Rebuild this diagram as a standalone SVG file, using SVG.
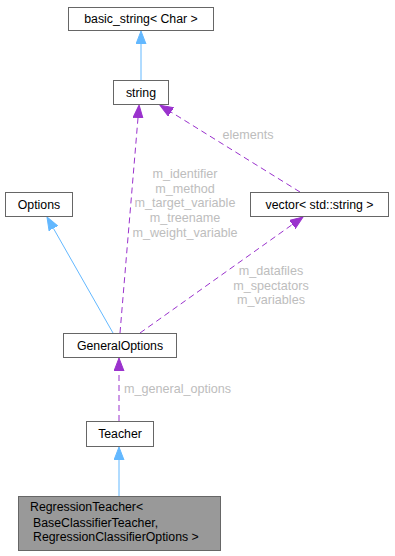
<svg xmlns="http://www.w3.org/2000/svg" width="395" height="556" viewBox="0 0 395 556">
<style>
.box{fill:#ffffff;stroke:#666666;stroke-width:1}
.cur{fill:#999999;stroke:#666666;stroke-width:1}
.t{font-family:"Liberation Sans",Arial,sans-serif;font-size:12.3px;fill:#000000}
.lbl{font-family:"Liberation Sans",Arial,sans-serif;font-size:12.6px;fill:#bdbdbd;text-anchor:middle}
.inh{fill:none;stroke:#63b8ff;stroke-width:1}
.use{fill:none;stroke:#9a32cd;stroke-width:1;stroke-dasharray:6,4}
</style>
<defs>
<marker id="ab" markerUnits="userSpaceOnUse" markerWidth="14" markerHeight="11" refX="0" refY="5.5" orient="auto" viewBox="0 0 14 11">
<path d="M0,0.5 L13,5.5 L0,10.5 z" fill="#63b8ff" stroke="#63b8ff"/>
</marker>
<marker id="ap" markerUnits="userSpaceOnUse" markerWidth="14" markerHeight="11" refX="0" refY="5.5" orient="auto" viewBox="0 0 14 11">
<path d="M0,0.5 L13,5.5 L0,10.5 z" fill="#9a32cd" stroke="#9a32cd"/>
</marker>
</defs>
<g id="connectors">
<path class="inh" d="M141,80 L141,44" marker-end="url(#ab)"/>
<path class="use" d="M120,333 L138,118" marker-end="url(#ap)"/>
<path class="use" d="M300,192 L171,112" marker-end="url(#ap)"/>
<path class="inh" d="M113,333 L53.4,228.3" marker-end="url(#ab)"/>
<path class="use" d="M140,333 L292.4,224.5" marker-end="url(#ap)"/>
<path class="use" d="M119,421 L119,371" marker-end="url(#ap)"/>
<path class="inh" d="M119,496 L119,460" marker-end="url(#ab)"/>
<text class="lbl" x="248" y="139">elements</text>
<text class="lbl" x="185" y="178">m_identifier</text>
<text class="lbl" x="185" y="193">m_method</text>
<text class="lbl" x="185" y="207">m_target_variable</text>
<text class="lbl" x="185" y="222">m_treename</text>
<text class="lbl" x="185" y="237">m_weight_variable</text>
<text class="lbl" x="271" y="275">m_datafiles</text>
<text class="lbl" x="271" y="290">m_spectators</text>
<text class="lbl" x="271" y="304">m_variables</text>
<text class="lbl" x="124" y="393" style="text-anchor:start">m_general_options</text>
</g>
<g id="basic_string">
<rect class="box" x="68.5" y="7.5" width="145" height="23"/>
<text class="t" x="141" y="23" text-anchor="middle">basic_string&lt; Char &gt;</text>
</g>
<g id="string">
<rect class="box" x="113.5" y="80.5" width="55" height="24"/>
<text class="t" x="141" y="97" text-anchor="middle">string</text>
</g>
<g id="Options">
<rect class="box" x="5.5" y="192.5" width="67" height="24"/>
<text class="t" x="39" y="209" text-anchor="middle">Options</text>
</g>
<g id="vector">
<rect class="box" x="250.5" y="192.5" width="138" height="24"/>
<text class="t" x="319.5" y="209" text-anchor="middle">vector&lt; std::string &gt;</text>
</g>
<g id="GeneralOptions">
<rect class="box" x="63.5" y="333.5" width="113" height="24"/>
<text class="t" x="120" y="350" text-anchor="middle">GeneralOptions</text>
</g>
<g id="Teacher">
<rect class="box" x="86.5" y="421.5" width="67" height="25"/>
<text class="t" x="120" y="438" text-anchor="middle">Teacher</text>
</g>
<g id="RegressionTeacher">
<rect class="cur" x="18.5" y="496.5" width="202" height="54"/>
<text class="t" x="30" y="511">RegressionTeacher&lt;</text>
<text class="t" x="33" y="527">BaseClassifierTeacher,</text>
<text class="t" x="33" y="541">RegressionClassifierOptions &gt;</text>
</g>
</svg>
